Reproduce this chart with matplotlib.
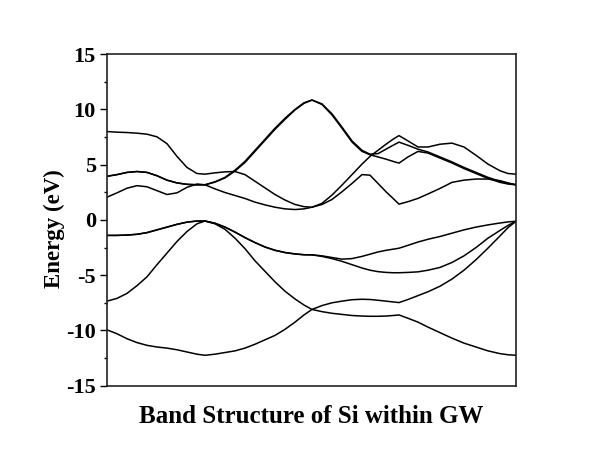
import matplotlib
matplotlib.use("Agg")
import numpy as np
import matplotlib.pyplot as plt
from matplotlib.ticker import MultipleLocator

# ===== Datos: camino L - Gamma - X - K - Gamma (posicion a lo largo del camino) =====
kpath = [0, 10, 20, 30, 40, 50, 60, 70, 80, 90, 98,
         108, 118, 128, 138, 148, 158, 168, 178, 188, 197, 205,
         215, 225, 235, 245, 255, 263, 271, 279, 286, 292,
         301, 311, 321, 333, 345, 357, 369, 381, 393, 401, 409]

# bandas de valencia (eV)
band1 = [-9.95, -10.3, -10.75, -11.1, -11.35, -11.5, -11.6, -11.75, -11.95, -12.15, -12.25,
         -12.15, -12.0, -11.85, -11.6, -11.25, -10.85, -10.45, -9.9, -9.25, -8.6, -8.1,
         -8.3, -8.45, -8.55, -8.65, -8.7, -8.72, -8.72, -8.7, -8.65, -8.6,
         -8.9, -9.25, -9.7, -10.2, -10.7, -11.15, -11.5, -11.85, -12.1, -12.2, -12.25]
band2 = [-7.35, -7.1, -6.65, -5.95, -5.15, -4.05, -3.0, -1.95, -1.05, -0.35, -0.1,
         -0.35, -0.85, -1.65, -2.6, -3.7, -4.65, -5.6, -6.45, -7.15, -7.7, -8.1,
         -7.75, -7.5, -7.35, -7.22, -7.18, -7.2, -7.27, -7.35, -7.42, -7.48,
         -7.2, -6.85, -6.5, -6.0, -5.35, -4.55, -3.6, -2.55, -1.45, -0.7, -0.12]
band3 = [-1.4, -1.4, -1.37, -1.3, -1.15, -0.9, -0.65, -0.4, -0.2, -0.1, -0.1,
         -0.3, -0.65, -1.1, -1.6, -2.05, -2.45, -2.75, -2.95, -3.08, -3.15, -3.16,
         -3.3, -3.5, -3.75, -4.05, -4.35, -4.55, -4.68, -4.75, -4.78, -4.78,
         -4.75, -4.7, -4.55, -4.3, -3.85, -3.25, -2.5, -1.65, -0.95, -0.5, -0.12]
band4 = [-1.4, -1.4, -1.37, -1.3, -1.15, -0.9, -0.65, -0.4, -0.2, -0.1, -0.1,
         -0.3, -0.65, -1.1, -1.6, -2.05, -2.45, -2.75, -2.95, -3.08, -3.15, -3.16,
         -3.25, -3.4, -3.55, -3.5, -3.3, -3.1, -2.9, -2.75, -2.65, -2.56,
         -2.3, -2.0, -1.75, -1.5, -1.2, -0.9, -0.65, -0.45, -0.28, -0.18, -0.12]

# bandas de conduccion (eV)
band5 = [2.06, 2.45, 2.87, 3.1, 3.0, 2.65, 2.3, 2.45, 2.95, 3.25, 3.18,
         2.81, 2.48, 2.21, 1.94, 1.61, 1.36, 1.15, 1.0, 0.94, 1.0, 1.15,
         1.4, 1.85, 2.55, 3.3, 4.1, 4.05, 3.3, 2.55, 1.95, 1.43,
         1.65, 1.95, 2.35, 2.85, 3.4, 3.6, 3.7, 3.7, 3.55, 3.35, 3.18]
band6 = [3.95, 4.1, 4.3, 4.38, 4.3, 4.0, 3.6, 3.35, 3.22, 3.18, 3.18,
         3.45, 3.85, 4.5, 5.3, 6.3, 7.3, 8.3, 9.2, 10.0, 10.6, 10.85,
         10.45, 9.5, 8.3, 7.05, 6.2, 5.9, 5.7, 5.5, 5.3, 5.14,
         5.7, 6.2, 6.05, 5.6, 5.15, 4.65, 4.2, 3.75, 3.4, 3.25, 3.18]
band7 = [3.95, 4.1, 4.3, 4.38, 4.3, 4.0, 3.6, 3.35, 3.22, 3.18, 3.18,
         3.42, 3.8, 4.42, 5.2, 6.2, 7.2, 8.2, 9.1, 9.95, 10.55, 10.85,
         10.5, 9.6, 8.4, 7.15, 6.3, 5.95, 6.0, 6.4, 6.75, 7.04,
         6.75, 6.4, 6.15, 5.7, 5.25, 4.75, 4.3, 3.85, 3.5, 3.3, 3.18]
band8 = [8.0, 7.94, 7.91, 7.85, 7.76, 7.52, 6.9, 5.75, 4.75, 4.2, 4.14,
         4.26, 4.35, 4.38, 4.1, 3.5, 2.9, 2.3, 1.8, 1.4, 1.2, 1.15,
         1.5, 2.25, 3.15, 4.1, 5.05, 5.75, 6.3, 6.85, 7.3, 7.63,
         7.15, 6.6, 6.6, 6.85, 6.95, 6.6, 5.85, 5.05, 4.45, 4.2, 4.14]

bands = [band1, band2, band3, band4, band5, band6, band7, band8]

# ===== Estilo =====
plt.rcParams["font.family"] = ["Liberation Serif", "DejaVu Serif"]
plt.rcParams["font.weight"] = "bold"
plt.rcParams["axes.unicode_minus"] = False

fig = plt.figure(figsize=(6.0, 4.63), dpi=100)
ax = fig.add_axes([0.1783, 0.167, 0.6817, 0.716])

for b in bands:
    ax.plot(kpath, b, color="black", lw=1.1)

ax.set_xlim(0, 409)
ax.set_ylim(-15, 15)

ax.yaxis.set_major_locator(MultipleLocator(5))
ax.yaxis.set_minor_locator(MultipleLocator(2.5))
ax.set_xticks([])
ax.tick_params(axis="y", which="major", direction="out", length=5, width=1.0,
               labelsize=16, pad=3)
ax.tick_params(axis="y", which="minor", direction="out", length=2.5, width=1.0)
ax.tick_params(axis="y", right=False)
for lab in ax.get_yticklabels():
    lab.set_fontweight("bold")

for sp in ax.spines.values():
    sp.set_linewidth(1.2)
    sp.set_color("#222222")

ax.set_ylabel("Energy (eV)", fontsize=16.5, fontweight="bold")
ax.yaxis.set_label_coords(-0.102, 0.473)
ax.set_xlabel("Band Structure of Si within GW", fontsize=18, fontweight="bold", labelpad=14)

fig.savefig("out.png", dpi=100)
